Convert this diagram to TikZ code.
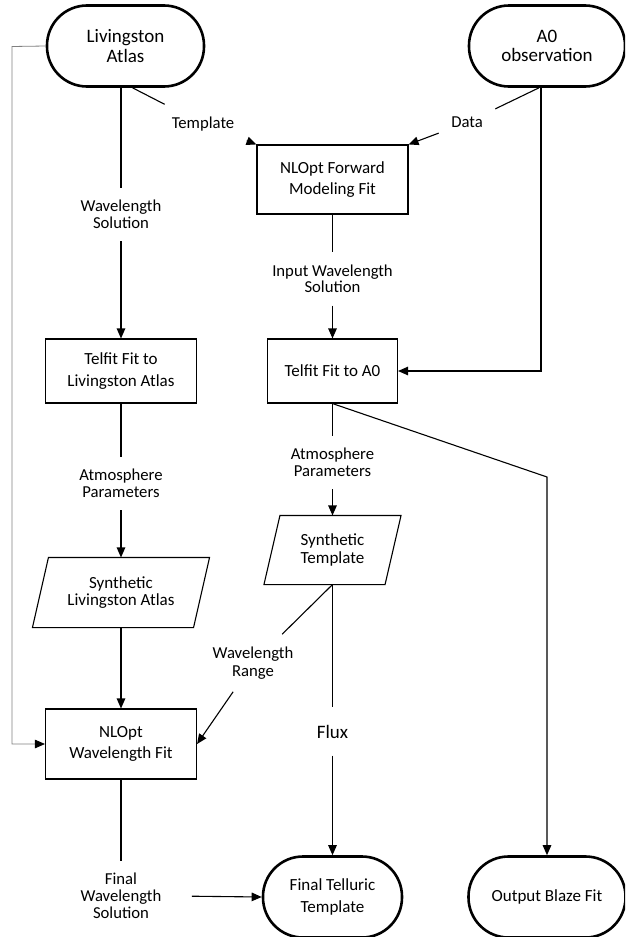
\documentclass[tikz,border=0pt]{standalone}
\usepackage{fontspec}
\setmainfont{Carlito}
\usetikzlibrary{arrows.meta}
\lineskiplimit=-20pt

\begin{document}
\begin{tikzpicture}[x=1pt,y=-1pt,->,>={Triangle[length=10pt,width=8.5pt]},line width=1.1pt]
\tikzset{TermStyle/.style = {draw,rectangle,rounded corners=40pt,line width=2.6pt,
                             minimum height=81pt,align=center},
         BoxStyle/.style = {draw,rectangle,align=center,
                            font=\fontsize{17}{21.5}\selectfont},
         DataStyle/.style = {rectangle,align=center,font=\fontsize{17}{17.5}\selectfont},
         LabelStyle/.style = {inner sep=12pt,align=center,
                              font=\fontsize{16.7}{17}\selectfont}}
\useasboundingbox (0,0) rectangle (625,937);
\clip (0,0) rectangle (625,937);
% shapes
\node[TermStyle,minimum width=157pt,font=\fontsize{19}{19.5}\selectfont] (liv) at (125.5,46) {Livingston\\Atlas};
\node[TermStyle,minimum width=156pt,font=\fontsize{19}{19.5}\selectfont] (a0) at (547,46) {A0\\observation};
\node[BoxStyle,minimum width=151pt,minimum height=69pt] (fwd) at (332.5,179.5) {NLOpt Forward\\Modeling Fit};
\node[BoxStyle,minimum width=151pt,minimum height=64pt] (tfl) at (121,371) {Telfit Fit to\\Livingston Atlas};
\node[BoxStyle,minimum width=130pt,minimum height=64pt] (tfa) at (332.5,371) {Telfit Fit to A0};
\node[DataStyle,minimum width=160pt,minimum height=69pt] (sla) at (121,592.5) {Synthetic\\Livingston Atlas};
\node[DataStyle,minimum width=120pt,minimum height=68pt] (syt) at (332.5,550) {Synthetic\\Template};
\node[BoxStyle,minimum width=151pt,minimum height=70pt] (nwf) at (121,744) {NLOpt\\Wavelength Fit};
\node[TermStyle,minimum width=139pt,font=\fontsize{17}{22}\selectfont] (ftt) at (332.5,897) {Final Telluric\\Template};
\node[TermStyle,minimum width=157pt,font=\fontsize{17}{22}\selectfont] (obf) at (547,897) {Output Blaze Fit};
\foreach \n in {sla,syt}
  \draw[-] ([xshift=8pt]\n.north west) -- ([xshift=8pt]\n.north east)
        -- ([xshift=-8pt]\n.south east) -- ([xshift=-8pt]\n.south west) -- cycle;
% labels
\node[LabelStyle] (lsol) at (121,214.5) {Wavelength\\Solution};
\node[LabelStyle] (tmpl) at (203,124) {Template};
\node[LabelStyle] (data) at (467,122.5) {Data};
\node[LabelStyle,font=\fontsize{16.7}{16.5}\selectfont] (isol) at (332.5,279) {Input Wavelength\\Solution};
\node[LabelStyle] (latm) at (121,483.5) {Atmosphere\\Parameters};
\node[LabelStyle] (ratm) at (332.5,462.5) {Atmosphere\\Parameters};
\node[LabelStyle,font=\fontsize{16.7}{18}\selectfont] (wrng) at (253,663) {Wavelength\\Range};
\node[LabelStyle,inner ysep=17pt,font=\fontsize{19}{20}\selectfont] (flux) at (332.5,731.5) {Flux};
\node[LabelStyle] (fsol) at (121,896) {Final\\Wavelength\\Solution};
\coordinate (a0bend) at (541,372); \coordinate (blzbend) at (547,477);
\coordinate (loop) at (12,46.5);
% connectors
\draw[-] (liv.south -| lsol.north) -- (lsol.north); \draw (lsol.south) -- (tfl.north);
\draw[-] ([xshift=7pt]liv.south) -- (tmpl);         \draw (tmpl) -- (fwd.north west);
\draw[-] ([xshift=-8pt]a0.south) -- (data);         \draw (data) -- (fwd.north east);
\draw (a0.south -| a0bend) |- (tfa.east);
\draw[-] (fwd.south) -- (isol.north);               \draw (isol.south) -- (tfa.north);
\draw[-] (tfl.south) -- (latm.north);               \draw (latm.south) -- (sla.north);
\draw[-] (tfa.south) -- (ratm.north);               \draw (ratm.south) -- (syt.north);
\draw (tfa.south) -- (blzbend) -- (obf.north);
\draw (sla.south) -- (nwf.north);
\draw[gray,line width=0.8pt,-{Triangle[length=10pt,width=8.5pt,black]}] (liv.west) -- (loop) |- (nwf.west);
\draw[-] (syt.south) -- (wrng);                     \draw (wrng) -- (nwf.east);
\draw[-] (syt.south) -- (flux.north);               \draw (flux.south) -- (ftt.north);
\draw[-] (nwf.south) -- (fsol.north);               \draw[shorten <=18pt] (fsol.east) -- (ftt.west);
\end{tikzpicture}
\end{document}
